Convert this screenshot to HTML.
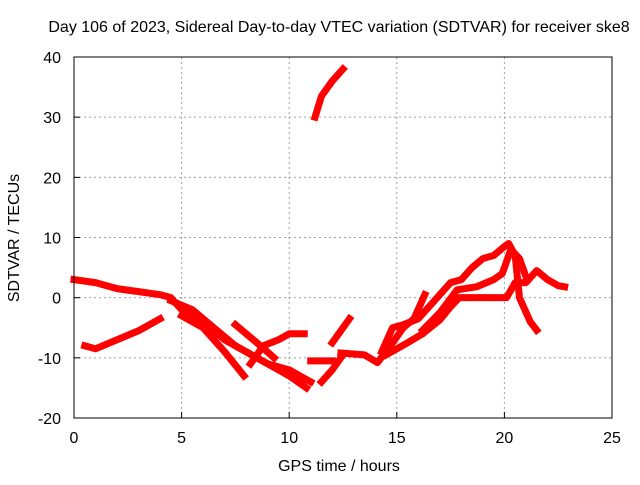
<!DOCTYPE html>
<html><head><meta charset="utf-8"><style>
body{margin:0;background:#fff;}
svg text{font-family:"Liberation Sans",sans-serif;font-size:16px;fill:#000;}
</style></head><body>
<svg width="640" height="480" id="chart" xmlns="http://www.w3.org/2000/svg">
<rect width="640" height="480" fill="#fff"/>
<text x="339" y="32" text-anchor="middle">Day 106 of 2023, Sidereal Day-to-day VTEC variation (SDTVAR) for receiver ske8</text>
<g id="grid"></g>
<g id="series"></g>
<rect x="74" y="57" width="538" height="361" fill="none" stroke="#000"/>
<g id="ticks"></g>
<text x="339" y="471" text-anchor="middle">GPS time / hours</text>
<text transform="translate(19,238) rotate(-90)" text-anchor="middle">SDTVAR / TECUs</text>
</svg>
<script>
const xTicks=[0,5,10,15,20,25];
const yTicks=[-20,-10,0,10,20,30,40];
const track1=[[0,3],[1,2.5],[2,1.5],[3,1],[4,0.5],[4.5,0],[5,-2],[6,-4],[7,-7],[8,-9],[9,-11],[10,-12],[10.5,-13],[11,-14]];
const track2=[[0.5,-8],[1,-8.5],[2,-7],[3,-5.5],[4,-3.5]];
const track3=[[5,-3],[6,-5],[7,-9],[7.9,-13]];
const track4=[[4.5,-0.5],[5.5,-2],[6.5,-5],[7.5,-8],[8.5,-10],[9.5,-12],[10,-13],[10.8,-15]];
const track5=[[7.5,-4.5],[8.5,-7.5],[9.3,-10]];
const track6=[[8.2,-11],[8.8,-8],[9.5,-7],[10,-6],[10.7,-6]];
const track7=[[11,-10.5],[12,-10.5]];
const track8=[[11.5,-14],[12,-12],[12.4,-10]];
const track9=[[12,-7.5],[12.5,-5],[12.8,-3.5]];
const track10=[[11.2,30],[11.5,33.5],[12,36],[12.5,38]];
const track11=[[12.4,-9.2],[13.5,-9.5],[14.1,-10.8],[14.7,-8],[15.3,-5],[15.8,-3.5],[16.3,0.5]];
const track12=[[14.3,-9],[14.8,-5],[15.3,-4.5],[16,-3.5],[16.5,-1.5],[17,0.5],[17.5,2.5],[18,3],[18.5,5],[19,6.5],[19.5,7],[20,8.5],[20.2,9],[20.5,7],[20.7,0],[21.2,-4],[21.5,-5.4]];
const track13=[[14.5,-9.5],[15.5,-7.5],[16.2,-6],[17,-3.7],[17.5,-1.5],[17.9,0],[19,0],[20.1,0],[20.5,2.5],[21,2.5],[21.5,4.5],[22,3],[22.5,2],[22.8,1.8]];
const track14=[[16.2,-5.4],[17,-2.5],[17.8,1.3],[18.7,1.8],[19.5,3],[19.9,4],[20.3,8],[20.7,6.5],[21,3.5]];
const tracks=[track1,track2,track3,track4,track5,track6,track7,track8,track9,track10,track11,track12,track13,track14];
const NS="http://www.w3.org/2000/svg";
const X=v=>74+v*(538/25);
const Y=v=>418-(v+20)*(361/60);
const grid=document.getElementById('grid'),ticks=document.getElementById('ticks'),ser=document.getElementById('series');
function mk(tag,attrs,parent){const e=document.createElementNS(NS,tag);for(const k in attrs)e.setAttribute(k,attrs[k]);parent.appendChild(e);return e;}
xTicks.forEach(t=>{
 if(t>0&&t<25){const g=mk('line',{x1:X(t),x2:X(t),y1:57,y2:418,stroke:'#a0a0a0','stroke-dasharray':'2,3'},grid);
 
 }
 const l=mk('line',{x1:X(t),x2:X(t),y1:418,y2:412,stroke:'#000'},ticks);
 
 
 const tx=mk('text',{x:X(t),y:443,'text-anchor':'middle'},ticks);tx.textContent=t;
 
 
});
yTicks.forEach(t=>{
 if(t>-20&&t<40){const g=mk('line',{x1:74,x2:612,y1:Y(t),y2:Y(t),stroke:'#a0a0a0','stroke-dasharray':'2,3'},grid);
 
 }
 const l=mk('line',{x1:74,x2:80,y1:Y(t),y2:Y(t),stroke:'#000'},ticks);
 
 
 const tx=mk('text',{x:61,y:Y(t)+6,'text-anchor':'end'},ticks);tx.textContent=t;
 
 
});
tracks.forEach(tr=>{
 const p=mk('polyline',{points:tr.map(d=>X(d[0])+','+Y(d[1])).join(' '),fill:'none',stroke:'#ff0000','stroke-width':7,'stroke-linejoin':'round','stroke-linecap':'square'},ser);
 
 
});
</script>
</body></html>
